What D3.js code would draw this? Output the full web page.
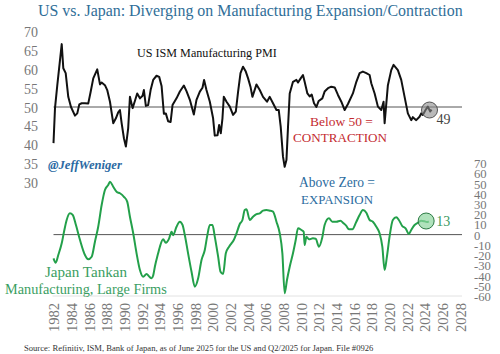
<!DOCTYPE html>
<html><head><meta charset="utf-8">
<script src="https://cdn.jsdelivr.net/npm/d3@7"></script>
<style>body{margin:0;background:#fff}svg{display:block}text{font-family:"Liberation Serif","DejaVu Serif",serif}</style>
</head><body><svg id="c" width="500" height="354"></svg>
<script>
// ---- data ----
const yearTicks = d3.range(1982, 2029, 2);
const usTicks = [30,35,40,45,50,55,60,65,70];
const jpTicks = [-60,-50,-40,-30,-20,-10,0,10,20,30,40,50,60,70];
const jpTickLabels = ["-60","-50","-40","-30","-20","-10","0","10","20","30","40","50","60","70"];

const usYears = [1982.00,1982.17,1982.43,1982.93,1983.11,1983.38,1983.67,1983.98,1984.43,1984.69,1984.92,1985.19,1985.56,1985.93,1986.20,1986.50,1986.95,1987.26,1987.45,1987.82,1988.08,1988.39,1988.76,1989.06,1989.32,1989.52,1989.71,1989.97,1990.19,1990.45,1990.65,1990.95,1991.21,1991.47,1991.78,1992.08,1992.23,1992.45,1992.71,1992.99,1993.28,1993.66,1993.96,1994.23,1994.49,1994.71,1994.97,1995.25,1995.47,1995.92,1996.30,1996.75,1997.05,1997.43,1997.88,1998.18,1998.56,1998.86,1999.04,1999.31,1999.69,2000.06,2000.25,2000.56,2000.74,2000.93,2001.12,2001.27,2001.58,2001.95,2002.32,2002.63,2002.89,2003.16,2003.45,2003.76,2004.02,2004.29,2004.51,2004.97,2005.34,2005.71,2006.16,2006.47,2006.84,2007.23,2007.49,2007.71,2007.97,2008.16,2008.36,2008.54,2008.73,2009.10,2009.49,2009.67,2009.97,2010.23,2010.42,2010.73,2010.99,2011.22,2011.48,2011.75,2012.01,2012.42,2012.68,2013.06,2013.44,2013.82,2014.19,2014.57,2014.95,2015.32,2015.88,2016.27,2016.64,2017.01,2017.40,2017.77,2017.96,2018.34,2018.71,2019.09,2019.35,2019.47,2019.84,2020.22,2020.48,2020.97,2021.35,2021.73,2022.10,2022.48,2022.66,2023.05,2023.42,2023.61,2023.79,2024.10,2024.36,2024.63,2024.78];
const usPMI = [40.4,49.7,55.8,66.7,60.3,59,52.7,50,47.7,48.3,50.7,51,51,50.9,54,57.6,60,56,56.5,55.8,54.5,51.4,45.7,47,48.6,49.2,45.7,41.7,39.5,44.3,52.7,49.7,51.6,53.6,52.3,53,54.5,50.3,50.5,54.5,57.2,58.3,58,55.6,48.2,48.3,46.2,46,50.5,52.3,54.1,55.7,54.2,51.9,48,51.9,54.1,55.1,57.2,54.5,51.4,47,42.4,42.5,45.2,43,47,52.7,51.4,50.1,47.9,48.8,54.1,59,60.7,59.4,57.6,55.4,52.7,56,54.5,52.7,51.4,52.7,51,49.2,49.2,44.8,36.8,34.1,35.9,44.8,53.6,56.7,57.2,56.5,57.6,58.5,56.7,53.6,52.8,53.3,51,50,51.6,52.3,54.1,55,55.4,55.2,53.2,51.4,49.2,50.8,53.6,56.7,59,59.4,59,58.5,56.3,53.6,50.1,49.2,51.4,45.7,55.8,59.8,61.2,59.8,57.2,52.7,48.3,46.5,47.3,46.5,47.4,48.3,47.9,49.2,50.1,48.8,49.3];

const jpYears = [1982.00,1982.25,1982.54,1982.93,1983.19,1983.49,1983.86,1984.17,1984.54,1985.00,1985.56,1985.93,1986.32,1986.69,1987.06,1987.45,1987.82,1988.19,1988.39,1988.76,1989.14,1989.52,1989.97,1990.34,1990.65,1991.02,1991.40,1991.78,1992.15,1992.53,1992.83,1993.10,1993.28,1993.47,1993.84,1994.04,1994.41,1994.71,1995.09,1995.36,1995.54,1995.92,1996.30,1996.60,1996.86,1997.23,1997.62,1997.99,1998.37,1998.75,1999.12,1999.38,1999.69,1999.99,2000.25,2000.63,2000.90,2001.19,2001.50,2001.87,2002.14,2002.40,2002.71,2003.08,2003.38,2003.64,2003.84,2004.21,2004.58,2004.97,2005.34,2005.71,2006.10,2006.47,2006.84,2007.23,2007.60,2007.90,2008.16,2008.42,2008.73,2009.10,2009.41,2009.67,2010.05,2010.31,2010.42,2010.62,2010.91,2011.36,2011.67,2012.04,2012.42,2012.68,2013.17,2013.55,2014.01,2014.46,2014.83,2015.14,2015.43,2015.82,2016.27,2016.64,2017.01,2017.40,2017.77,2018.14,2018.53,2018.90,2019.21,2019.47,2019.73,2020.03,2020.40,2020.79,2021.08,2021.47,2021.84,2022.21,2022.48,2022.86,2023.23,2023.61,2023.99,2024.25,2024.47];
const jpTankan = [-23.2,-27.4,-19.9,-8.5,2.8,14.3,20.8,19.2,9.4,-5.3,-19.9,-24.1,-21.6,-6.9,7.7,28.9,43.6,48.5,51.7,46.8,41.9,40.4,37,32.2,17.5,1.3,-18.3,-34.6,-41.2,-38.5,-41,-42.7,-40,-31.4,-18.3,-11.8,-4.6,-7.9,-3.6,2.8,-0.5,7.7,12.6,9.4,-0.4,-18.3,-36.3,-50.9,-42.7,-24.8,-15,-2,9.4,9.4,-2,-21.6,-36.3,-38.5,-18.3,-11.8,-8.5,-5.3,1.3,10.4,14.3,24,24.7,14.3,17.5,20.1,20.8,23.4,24,23.4,22.4,12.6,1.3,-18.3,-57.4,-44.4,-31.4,-18.3,-5.3,6.2,4.5,2.8,-10.2,-2,-4.6,-3.6,-4,-11.8,-2.6,9.4,15.9,12.6,12.6,13.6,11,8.5,5.2,5.2,12.6,19.2,24,21.4,14.3,12.6,7.7,1.3,-11.8,-34.6,-21.6,-2,14.3,16.9,14.3,8.4,6.2,0.6,4.5,9.4,11.6,13.6,13,12.3,13];

const usLast = {year: 2024.55, value: 49.2, label: "49"};
const jpLast = {year: 2024.17, value: 13.3, label: "13"};

// ---- scales ----
const svg = d3.select("#c");
const x = d3.scaleLinear().domain([1982, 2028]).range([53.5, 460]);
const yUS = d3.scaleLinear().domain([30, 70]).range([182.3, 31.7]);
const yJP = d3.scaleLinear().domain([-60, 70]).range([296, 163]);

function fit(sel, w) {
  const l = sel.node().getComputedTextLength();
  sel.attr("font-size", (+sel.attr("font-size")) * w / l);
  return sel;
}

// title
fit(svg.append("text").attr("x", 38).attr("y", 16).attr("font-size", 16)
  .attr("fill", "#2f6e98").text("US vs. Japan: Diverging on Manufacturing Expansion/Contraction"), 425);

// left axis
const gL = svg.append("g").attr("transform", "translate(38,0)")
  .call(d3.axisLeft(yUS).tickValues(usTicks).tickSize(0).tickPadding(0).tickFormat(d3.format("d")));
gL.select(".domain").remove();
gL.selectAll("text").attr("font-family", "Liberation Serif").attr("font-size", 14).attr("fill", "#777").attr("dy", "0.36em");

// right axis
const gR = svg.append("g").attr("transform", "translate(474,0)")
  .call(d3.axisRight(yJP).tickValues(jpTicks).tickSize(0).tickPadding(0).tickFormat((d, i) => jpTickLabels[i]));
gR.select(".domain").remove();
gR.selectAll("text").attr("font-family", "Liberation Serif").attr("font-size", 12.7).attr("fill", "#777").attr("dy", "0.36em");

// bottom axis
svg.append("line").attr("x1", x(1982) - 1).attr("x2", x(2028) + 2)
  .attr("y1", yJP(-60)).attr("y2", yJP(-60)).attr("stroke", "#e2e2e2").attr("stroke-width", 1);
const gB = svg.append("g").attr("transform", "translate(0,303)")
  .call(d3.axisBottom(x).tickValues(yearTicks).tickSize(0).tickPadding(0).tickFormat(d3.format("d")));
gB.select(".domain").remove();
gB.selectAll("text").attr("font-family", "Liberation Serif").attr("font-size", 14.5).attr("fill", "#777")
  .attr("text-anchor", "end").attr("transform", "rotate(-90)").attr("x", 0).attr("y", 0).attr("dy", "0.36em");

// reference lines
svg.append("line").attr("x1", x(1982)).attr("x2", x(2028) + 2)
  .attr("y1", yUS(50)).attr("y2", yUS(50)).attr("stroke", "#555").attr("stroke-width", 1);
svg.append("line").attr("x1", x(1982)).attr("x2", x(2028) + 2)
  .attr("y1", yJP(0)).attr("y2", yJP(0)).attr("stroke", "#555").attr("stroke-width", 1);

// series
const usData = usYears.map((d, i) => [d, usPMI[i]]);
const jpData = jpYears.map((d, i) => [d, jpTankan[i]]);
svg.append("path").datum(jpData)
  .attr("d", d3.line().x(d => x(d[0])).y(d => yJP(d[1])).curve(d3.curveMonotoneX))
  .attr("fill", "none").attr("stroke", "#23a04a").attr("stroke-width", 2);
svg.append("path").datum(usData)
  .attr("d", d3.line().x(d => x(d[0])).y(d => yUS(d[1])))
  .attr("fill", "none").attr("stroke", "#111").attr("stroke-width", 2).attr("stroke-linejoin", "round");

// end markers
svg.append("circle").attr("cx", x(usLast.year)).attr("cy", yUS(usLast.value)).attr("r", 8)
  .attr("fill", "#8a8a8a").attr("fill-opacity", 0.6).attr("stroke", "#555").attr("stroke-width", 1);
svg.append("text").attr("x", x(usLast.year) + 7).attr("y", yUS(usLast.value) + 14)
  .attr("font-size", 14).attr("fill", "#444").text(usLast.label);
svg.append("circle").attr("cx", x(jpLast.year)).attr("cy", yJP(jpLast.value)).attr("r", 8)
  .attr("fill", "#8fd6a0").attr("fill-opacity", 0.7).attr("stroke", "#2c7a44").attr("stroke-width", 1);
svg.append("text").attr("x", x(jpLast.year) + 10).attr("y", yJP(jpLast.value) + 4.5)
  .attr("font-size", 14).attr("fill", "#3a9a5e").text(jpLast.label);

// annotations
fit(svg.append("text").attr("x", 137).attr("y", 57).attr("font-size", 13).attr("fill", "#111")
  .text("US ISM Manufacturing PMI"), 140);
fit(svg.append("text").attr("x", 48).attr("y", 169).attr("font-size", 14).attr("font-weight", "bold")
  .attr("font-style", "italic").attr("fill", "#2b6aa3").text("@JeffWeniger"), 74);
fit(svg.append("text").attr("x", 310).attr("y", 126).attr("font-size", 14).attr("fill", "#c42b30")
  .text("Below 50 ="), 63);
fit(svg.append("text").attr("x", 293).attr("y", 142).attr("font-size", 14).attr("fill", "#c42b30")
  .text("CONTRACTION"), 94);
fit(svg.append("text").attr("x", 299).attr("y", 187).attr("font-size", 14).attr("fill", "#2c6ca0")
  .text("Above Zero ="), 76);
fit(svg.append("text").attr("x", 301).attr("y", 204).attr("font-size", 14).attr("fill", "#2c6ca0")
  .text("EXPANSION"), 72);
fit(svg.append("text").attr("x", 45).attr("y", 277).attr("font-size", 15).attr("fill", "#3a9e62")
  .text("Japan Tankan"), 82);
fit(svg.append("text").attr("x", 5).attr("y", 294).attr("font-size", 15).attr("fill", "#3a9e62")
  .text("Manufacturing, Large Firms"), 162);
fit(svg.append("text").attr("x", 24).attr("y", 351).attr("font-size", 11).attr("fill", "#333")
  .text("Source: Refinitiv, ISM, Bank of Japan, as of June 2025 for the US and Q2/2025 for Japan. File #0926"), 350);
</script></body></html>
